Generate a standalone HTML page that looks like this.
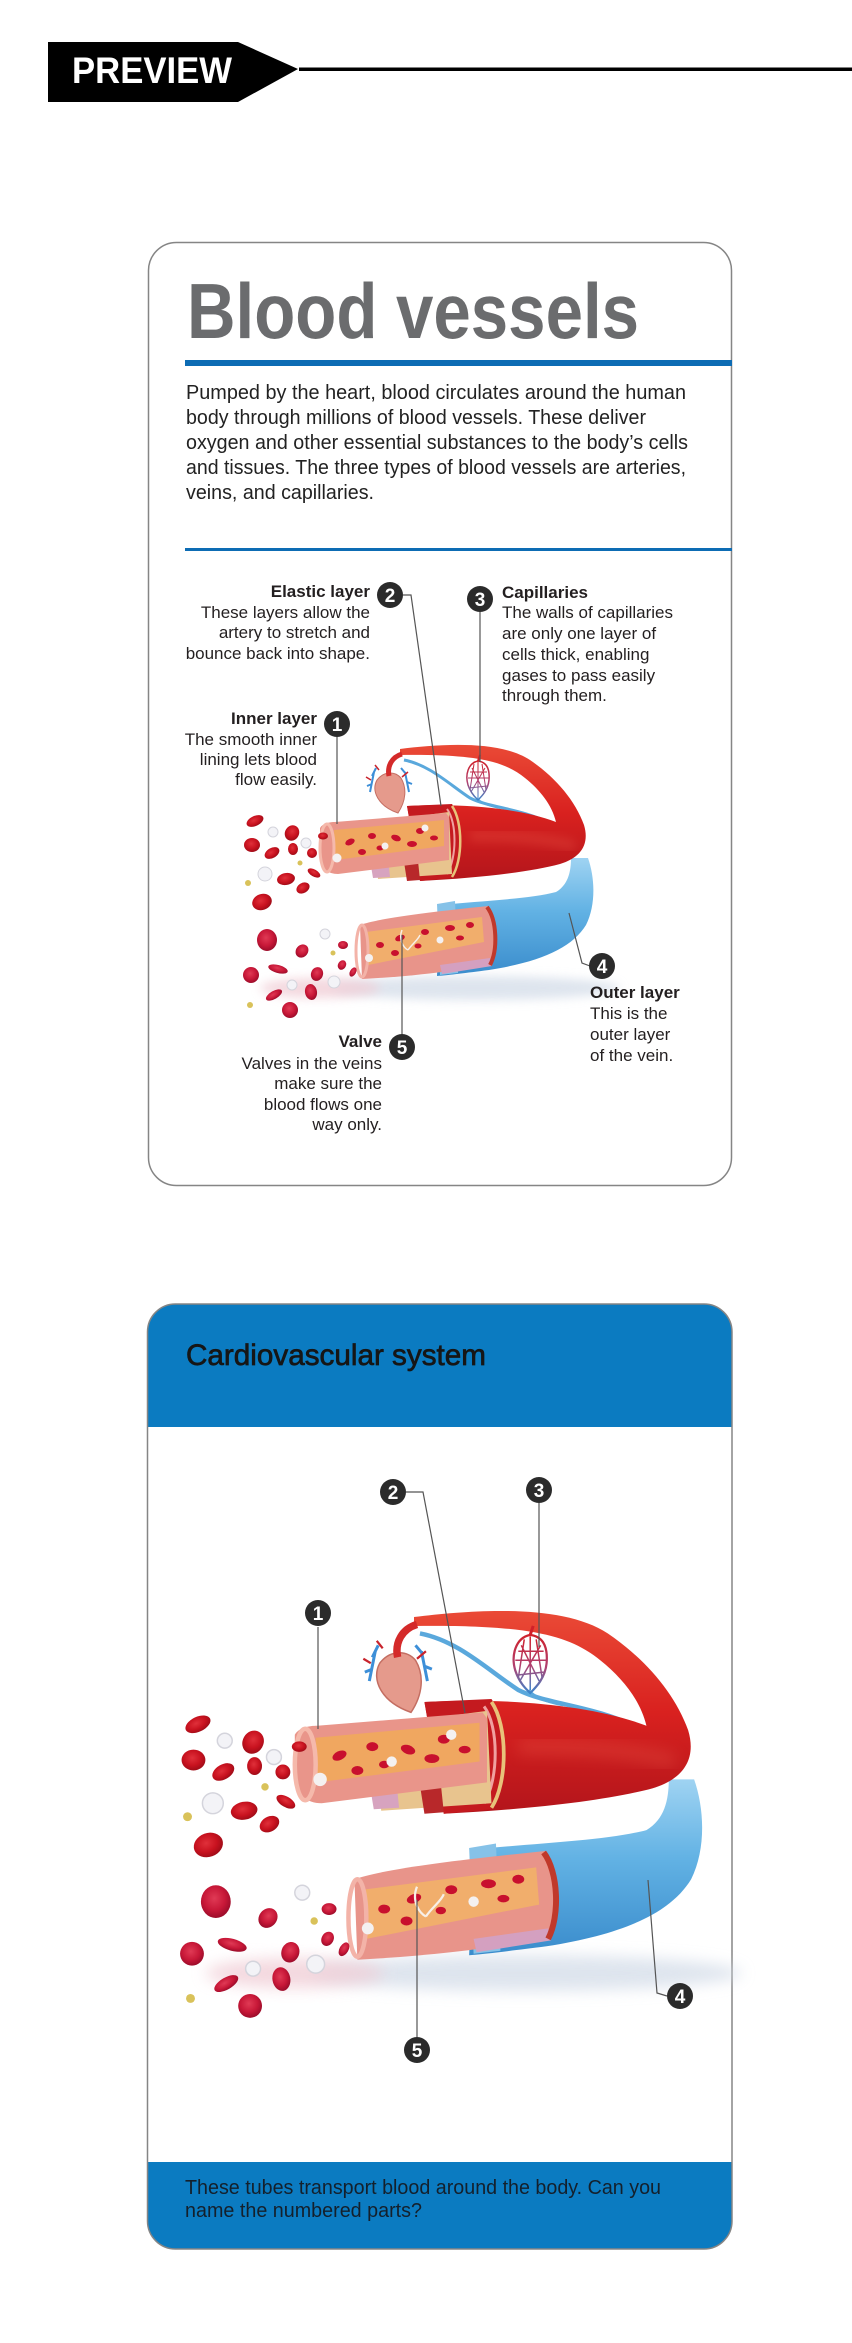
<!DOCTYPE html>
<html><head><meta charset="utf-8">
<style>
html,body{margin:0;padding:0;background:#fff;}
svg{display:block;}
text{font-family:"Liberation Sans",sans-serif;}
</style></head>
<body>
<svg width="852" height="2343" viewBox="0 0 852 2343" xmlns="http://www.w3.org/2000/svg">
<defs>
  <linearGradient id="gR" x1="0" y1="0" x2="0" y2="1">
    <stop offset="0" stop-color="#ea4a36"/>
    <stop offset="0.5" stop-color="#d9211f"/>
    <stop offset="1" stop-color="#b3151b"/>
  </linearGradient>
  <linearGradient id="gB" x1="0" y1="0" x2="0" y2="1">
    <stop offset="0" stop-color="#9fd3f2"/>
    <stop offset="0.45" stop-color="#62b2e4"/>
    <stop offset="1" stop-color="#3a8ccc"/>
  </linearGradient>
  <linearGradient id="gCap" x1="0" y1="0" x2="0" y2="1">
    <stop offset="0" stop-color="#d0202a"/>
    <stop offset="0.55" stop-color="#b04070"/>
    <stop offset="1" stop-color="#3b86cc"/>
  </linearGradient>
  <radialGradient id="gCell" cx="0.45" cy="0.4" r="0.6">
    <stop offset="0" stop-color="#e0303a"/>
    <stop offset="0.6" stop-color="#c8121f"/>
    <stop offset="1" stop-color="#a00c18"/>
  </radialGradient>
  <radialGradient id="gCell2" cx="0.45" cy="0.4" r="0.6">
    <stop offset="0" stop-color="#e03a55"/>
    <stop offset="0.6" stop-color="#c81838"/>
    <stop offset="1" stop-color="#9c0c2a"/>
  </radialGradient>
  <filter id="bl" x="-50%" y="-50%" width="200%" height="200%"><feGaussianBlur stdDeviation="5"/></filter>
  <clipPath id="c2"><rect x="147.5" y="1304" width="584.5" height="945" rx="28"/></clipPath>

  <g id="ill">
    <!-- shadows -->
    <ellipse cx="475" cy="988" rx="145" ry="12" fill="#d3dce8" opacity="0.75" filter="url(#bl)"/>
    <ellipse cx="320" cy="988" rx="60" ry="10" fill="#f1cfd7" opacity="0.8" filter="url(#bl)"/>
    <!-- thin blue vein -->
    <path d="M404,760 C430,765 450,785 470,798 C490,808 520,808 552,824" fill="none" stroke="#5aa8dc" stroke-width="3"/>
    <path d="M477,798 C480,803 490,806 500,808" fill="none" stroke="#5aa8dc" stroke-width="2"/>
    <!-- vein body -->
    <path d="M440,905 C480,901 530,899 556,892 C568,885 571,872 571,858 L588,858 C595,878 596,905 586,925 C572,948 540,962 489,970 C465,973 450,975 437,976 Z" fill="url(#gB)"/>
    <path d="M437,904 L455,901 L458,973 L440,975 Z" fill="#86c2e8"/>
    <!-- vein cut section -->
    <path d="M360,925 C380,918 430,912 488,906 C497,920 498,950 490,964 C460,970 420,976 362,979 Z" fill="#e8948a"/>
    <path d="M440,965 L490,958 L492,966 L442,974 Z" fill="#d4a0c0"/>
    <path d="M366,932 L482,917 L484,942 L368,965 Z" fill="#f1ae6c"/>
    <path d="M487,907 C497,920 498,950 490,965" fill="none" stroke="#c0392b" stroke-width="4"/>
    <ellipse cx="362" cy="951" rx="6" ry="26" fill="none" stroke="#f3b3a8" stroke-width="3"/>
    <g fill="#c8102e">
      <ellipse cx="380" cy="945" rx="4" ry="3"/>
      <ellipse cx="400" cy="938" rx="5" ry="3" transform="rotate(-20 400 938)"/>
      <ellipse cx="425" cy="932" rx="4" ry="3"/>
      <ellipse cx="450" cy="928" rx="5" ry="3"/>
      <ellipse cx="470" cy="925" rx="4" ry="3"/>
      <ellipse cx="395" cy="953" rx="4" ry="3"/>
      <ellipse cx="460" cy="938" rx="4" ry="2.5"/>
      <ellipse cx="418" cy="946" rx="3.5" ry="2.5"/>
    </g>
    <circle cx="369" cy="958" r="4" fill="#f4f1f1"/>
    <circle cx="440" cy="940" r="3.5" fill="#f4f1f1"/>
    <path d="M402,930 C398,940 404,948 408,950 M408,950 C412,944 418,940 420,935" fill="none" stroke="#f7efe8" stroke-width="1.5"/>
    <!-- artery body -->
    <path d="M400,749 C440,744 500,740 530,760 C555,777 575,800 584,825 C590,845 580,858 560,864 C530,872 480,878 420,881 L407,806 C460,803 520,808 556,822 C552,805 540,790 525,778 C505,762 480,754 400,755 Z" fill="url(#gR)"/>
    <path d="M470,836 C510,836 545,838 575,846" fill="none" stroke="#f06050" stroke-width="10" opacity="0.3" filter="url(#bl)"/>
    <path d="M407,806 L452,804 C463,820 463,860 452,878 L420,881 Z" fill="#c41a1f"/>
    <path d="M452,806 C463,822 463,860 452,877" fill="none" stroke="#e8c27a" stroke-width="2.5"/>
    <path d="M447,809 C457,822 457,858 447,874" fill="none" stroke="#f0a0a0" stroke-width="2"/>
    <!-- artery layers -->
    <path d="M372,822 L449,812 L452,874 L378,879 Z" fill="#e8c48e"/>
    <path d="M370,860 L388,858 L390,877 L373,878 Z" fill="#d7a3bf"/>
    <path d="M404,862 L418,861 L420,880 L407,881 Z" fill="#b8282a"/>
    <path d="M320,828 C323,823 330,822 335,822 L446,813 L449,817 L449,860 L338,874 C328,874 321,868 320,860 Z" fill="#e9958a"/>
    <path d="M334,830 L444,820 L444,846 L335,860 Z" fill="#f0a760"/>
    <ellipse cx="327" cy="848" rx="7" ry="24" fill="none" stroke="#f5b9ab" stroke-width="3"/>
    <g fill="#c8102e">
      <ellipse cx="350" cy="842" rx="5" ry="3" transform="rotate(-25 350 842)"/>
      <ellipse cx="372" cy="836" rx="4" ry="3"/>
      <ellipse cx="396" cy="838" rx="5" ry="3" transform="rotate(20 396 838)"/>
      <ellipse cx="420" cy="831" rx="4" ry="3"/>
      <ellipse cx="362" cy="852" rx="4" ry="3"/>
      <ellipse cx="412" cy="844" rx="5" ry="3"/>
      <ellipse cx="434" cy="838" rx="4" ry="2.5"/>
      <ellipse cx="380" cy="848" rx="3.5" ry="2.5"/>
    </g>
    <circle cx="337" cy="858" r="4.5" fill="#f4f1f1"/>
    <circle cx="425" cy="828" r="3.5" fill="#f4f1f1"/>
    <circle cx="385" cy="846" r="3.5" fill="#f4f1f1"/>
    <!-- heart -->
    <path d="M377,780 C371,791 378,806 398,813 C406,801 407,788 401,778 C395,771 384,771 377,780 Z" fill="#e59a8c" stroke="#c46e62" stroke-width="1"/>
    <path d="M389,776 C387,766 392,757 402,754" fill="none" stroke="#d42a2a" stroke-width="5"/>
    <path d="M376,768 L372,776 M374,772 L370,792 M372,784 L367,786" fill="none" stroke="#3d8fd8" stroke-width="2"/>
    <path d="M401,768 L406,774 M405,772 L409,792 M407,782 L412,784" fill="none" stroke="#3d8fd8" stroke-width="2"/>
    <path d="M379,770 L375,765 M402,777 L408,772 M371,780 L366,777" fill="none" stroke="#c8232c" stroke-width="1.5"/>
    <!-- capillary bed -->
    <path d="M480,755 L478,761" stroke="#d0202a" stroke-width="2"/>
    <path d="M478,761 C468,763 465,775 468,785 C471,794 476,798 478,800 C482,796 488,790 489,780 C490,768 486,762 478,761 Z" fill="none" stroke="url(#gCap)" stroke-width="1.5"/>
    <path d="M478,762 L478,798 M472,768 L484,792 M485,768 L471,792 M468,778 L489,778 M469,788 L487,786 M470,772 L487,772 M474,764 L470,790 M482,764 L486,790" fill="none" stroke="url(#gCap)" stroke-width="1"/>
    <!-- blood cells (red) -->
    <g fill="url(#gCell)">
      <ellipse cx="255" cy="821" rx="9" ry="5" transform="rotate(-25 255 821)"/>
      <ellipse cx="292" cy="833" rx="7" ry="8" transform="rotate(30 292 833)"/>
      <ellipse cx="252" cy="845" rx="8" ry="7"/>
      <ellipse cx="272" cy="853" rx="8" ry="5" transform="rotate(-30 272 853)"/>
      <ellipse cx="293" cy="849" rx="5" ry="6"/>
      <ellipse cx="312" cy="853" rx="5" ry="5"/>
      <ellipse cx="323" cy="836" rx="5" ry="3.5"/>
      <ellipse cx="286" cy="879" rx="9" ry="6" transform="rotate(-10 286 879)"/>
      <ellipse cx="303" cy="888" rx="7" ry="5" transform="rotate(-30 303 888)"/>
      <ellipse cx="262" cy="902" rx="10" ry="8" transform="rotate(-20 262 902)"/>
      <ellipse cx="314" cy="873" rx="7" ry="3.5" transform="rotate(30 314 873)"/>
    </g>
    <g fill="url(#gCell2)">
      <ellipse cx="267" cy="940" rx="10" ry="11"/>
      <ellipse cx="302" cy="951" rx="6" ry="7" transform="rotate(40 302 951)"/>
      <ellipse cx="278" cy="969" rx="10" ry="4" transform="rotate(15 278 969)"/>
      <ellipse cx="251" cy="975" rx="8" ry="8"/>
      <ellipse cx="317" cy="974" rx="6" ry="7" transform="rotate(20 317 974)"/>
      <ellipse cx="343" cy="945" rx="5" ry="4"/>
      <ellipse cx="342" cy="965" rx="4" ry="5" transform="rotate(30 342 965)"/>
      <ellipse cx="353" cy="972" rx="3" ry="5" transform="rotate(30 353 972)"/>
      <ellipse cx="274" cy="995" rx="9" ry="4" transform="rotate(-30 274 995)"/>
      <ellipse cx="311" cy="992" rx="6" ry="8" transform="rotate(-10 311 992)"/>
      <ellipse cx="290" cy="1010" rx="8" ry="8"/>
    </g>
    <g fill="#f3f3f7" stroke="#d4d4dc" stroke-width="1">
      <circle cx="273" cy="832" r="5"/>
      <circle cx="306" cy="843" r="5"/>
      <circle cx="265" cy="874" r="7"/>
      <circle cx="325" cy="934" r="5"/>
      <circle cx="292" cy="985" r="5"/>
      <circle cx="334" cy="982" r="6"/>
    </g>
    <g fill="#d9c25a">
      <circle cx="248" cy="883" r="3"/>
      <circle cx="300" cy="863" r="2.5"/>
      <circle cx="250" cy="1005" r="3"/>
      <circle cx="333" cy="953" r="2.5"/>
    </g>
  </g>
</defs>

<!-- PREVIEW banner -->
<rect x="299" y="67.5" width="553" height="3.5" fill="#000"/>
<polygon points="48,42 238,42 298,69 238,102 48,102" fill="#000"/>
<text x="72" y="83" font-size="37" font-weight="bold" fill="#fff" textLength="160" lengthAdjust="spacingAndGlyphs">PREVIEW</text>

<!-- CARD 1 -->
<rect x="148.5" y="242.5" width="583" height="943" rx="28" fill="#fff" stroke="#858585" stroke-width="1.5"/>
<text x="187" y="338" font-size="78" font-weight="bold" fill="#6b6c6e" textLength="452" lengthAdjust="spacingAndGlyphs">Blood vessels</text>
<rect x="185" y="360" width="547" height="6" fill="#0d6cb4"/>
<g font-size="20" fill="#222">
  <text x="186" y="399" textLength="500" lengthAdjust="spacingAndGlyphs">Pumped by the heart, blood circulates around the human</text>
  <text x="186" y="424" textLength="460" lengthAdjust="spacingAndGlyphs">body through millions of blood vessels. These deliver</text>
  <text x="186" y="449" textLength="502" lengthAdjust="spacingAndGlyphs">oxygen and other essential substances to the body’s cells</text>
  <text x="186" y="474" textLength="500" lengthAdjust="spacingAndGlyphs">and tissues. The three types of blood vessels are arteries,</text>
  <text x="186" y="499" textLength="188" lengthAdjust="spacingAndGlyphs">veins, and capillaries.</text>
</g>
<rect x="185" y="548" width="547" height="3" fill="#0d6cb4"/>

<use href="#ill"/>

<!-- card1 leaders -->
<g fill="none" stroke="#555" stroke-width="1.2">
  <path d="M337,737 L337,824"/>
  <path d="M403,595 L411,595 L441,806"/>
  <path d="M480,612 L480,762"/>
  <path d="M569,913 L582,963 L590,966"/>
  <path d="M402,935 L402,1034"/>
</g>
<!-- card1 labels -->
<g font-size="17" fill="#231f20">
  <text x="370" y="597" text-anchor="end" font-weight="bold">Elastic layer</text>
  <text x="370" y="618" text-anchor="end">These layers allow the</text>
  <text x="370" y="638" text-anchor="end">artery to stretch and</text>
  <text x="370" y="659" text-anchor="end">bounce back into shape.</text>

  <text x="502" y="598" font-weight="bold">Capillaries</text>
  <text x="502" y="618">The walls of capillaries</text>
  <text x="502" y="639">are only one layer of</text>
  <text x="502" y="660">cells thick, enabling</text>
  <text x="502" y="681">gases to pass easily</text>
  <text x="502" y="701">through them.</text>

  <text x="317" y="724" text-anchor="end" font-weight="bold">Inner layer</text>
  <text x="317" y="745" text-anchor="end">The smooth inner</text>
  <text x="317" y="765" text-anchor="end">lining lets blood</text>
  <text x="317" y="785" text-anchor="end">flow easily.</text>

  <text x="382" y="1047" text-anchor="end" font-weight="bold">Valve</text>
  <text x="382" y="1069" text-anchor="end">Valves in the veins</text>
  <text x="382" y="1089" text-anchor="end">make sure the</text>
  <text x="382" y="1110" text-anchor="end">blood flows one</text>
  <text x="382" y="1130" text-anchor="end">way only.</text>

  <text x="590" y="998" font-weight="bold">Outer layer</text>
  <text x="590" y="1019">This is the</text>
  <text x="590" y="1040">outer layer</text>
  <text x="590" y="1061">of the vein.</text>
</g>
<!-- card1 number circles -->
<g font-size="19" font-weight="bold" text-anchor="middle">
  <circle cx="337" cy="724" r="13" fill="#2b2b2b"/><text x="337" y="731" fill="#fff">1</text>
  <circle cx="390" cy="595" r="13" fill="#2b2b2b"/><text x="390" y="602" fill="#fff">2</text>
  <circle cx="480" cy="599" r="13" fill="#2b2b2b"/><text x="480" y="606" fill="#fff">3</text>
  <circle cx="602" cy="966" r="13" fill="#2b2b2b"/><text x="602" y="973" fill="#fff">4</text>
  <circle cx="402" cy="1047" r="13" fill="#2b2b2b"/><text x="402" y="1054" fill="#fff">5</text>
</g>

<!-- CARD 2 -->
<g clip-path="url(#c2)">
  <rect x="147" y="1304" width="586" height="946" fill="#fff"/>
  <rect x="147" y="1304" width="586" height="123" fill="#0b7bc1"/>
  <rect x="147" y="2162" width="586" height="88" fill="#0b7bc1"/>
</g>
<rect x="147.5" y="1304" width="584.5" height="945" rx="28" fill="none" stroke="#858585" stroke-width="1.5"/>
<text x="186" y="1365" font-size="30" fill="#161616" stroke="#161616" stroke-width="0.7" textLength="300" lengthAdjust="spacingAndGlyphs">Cardiovascular system</text>
<g font-size="20" fill="#14202c">
  <text x="185" y="2194" textLength="476" lengthAdjust="spacingAndGlyphs">These tubes transport blood around the body. Can you</text>
  <text x="185" y="2217" textLength="237" lengthAdjust="spacingAndGlyphs">name the numbered parts?</text>
</g>

<use href="#ill" transform="matrix(1.49 0 0 1.49 -182 501)"/>

<g fill="none" stroke="#555" stroke-width="1.2">
  <path d="M318,1627 L318,1729"/>
  <path d="M406,1492 L423,1492 L465,1713"/>
  <path d="M539,1503 L539,1647"/>
  <path d="M648,1880 L657,1993 L667,1996"/>
  <path d="M417,1900 L417,2037"/>
</g>
<g font-size="19" font-weight="bold" text-anchor="middle">
  <circle cx="318" cy="1613" r="13" fill="#2b2b2b"/><text x="318" y="1620" fill="#fff">1</text>
  <circle cx="393" cy="1492" r="13" fill="#2b2b2b"/><text x="393" y="1499" fill="#fff">2</text>
  <circle cx="539" cy="1490" r="13" fill="#2b2b2b"/><text x="539" y="1497" fill="#fff">3</text>
  <circle cx="680" cy="1996" r="13" fill="#2b2b2b"/><text x="680" y="2003" fill="#fff">4</text>
  <circle cx="417" cy="2050" r="13" fill="#2b2b2b"/><text x="417" y="2057" fill="#fff">5</text>
</g>
</svg>
</body></html>
